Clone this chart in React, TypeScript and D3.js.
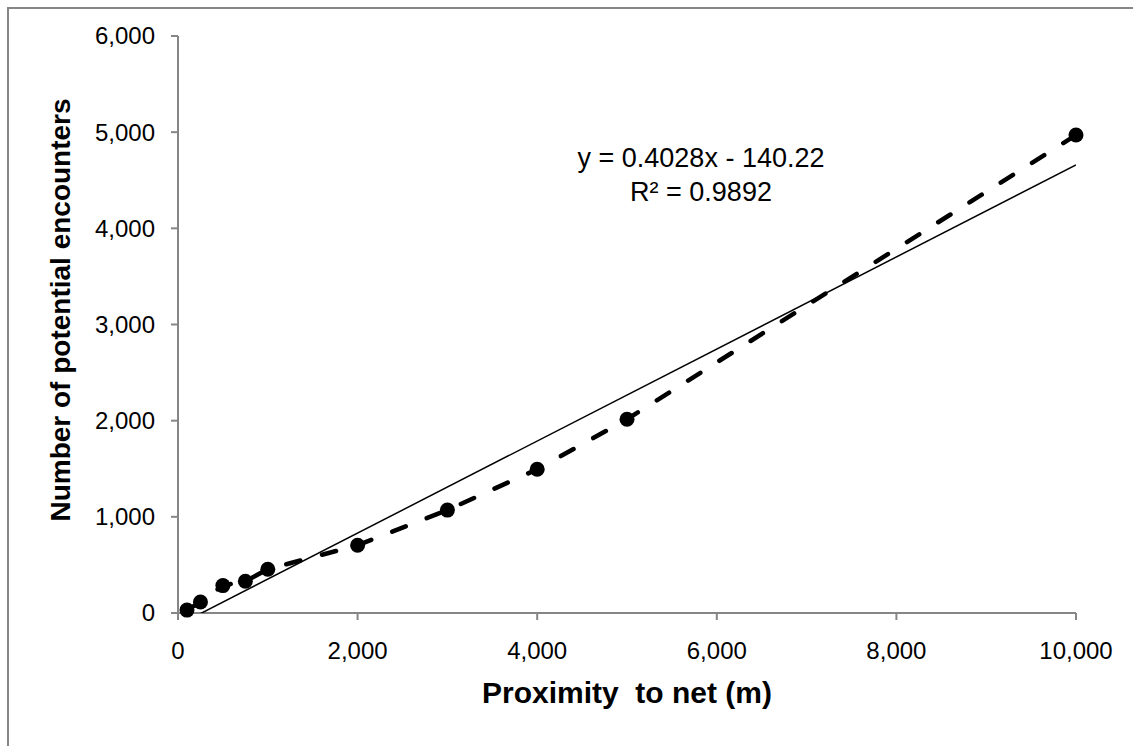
import React from "react";
import * as d3 from "d3";

const xValues = [100, 250, 500, 750, 1000, 2000, 3000, 4000, 5000, 10000];
const yValues = [30, 115, 285, 330, 455, 705, 1070, 1495, 2015, 4970];
const xTicks = [0, 2000, 4000, 6000, 8000, 10000];
const yTicks = [0, 1000, 2000, 3000, 4000, 5000, 6000];
const equationLines = ["y = 0.4028x - 140.22", "R² = 0.9892"];
const xTitle = "Proximity  to net (m)";
const yTitle = "Number of potential encounters";

const W = 1133;
const H = 746;
const plot = { left: 178, right: 1076, top: 36, bottom: 613 };
const font = "'Liberation Sans', Arial, sans-serif";
const axisColor = "#868686";

export default function App() {
  const x = d3.scaleLinear().domain([0, 10000]).range([plot.left, plot.right]);
  const y = d3.scaleLinear().domain([0, 6000]).range([plot.bottom, plot.top]);
  const fmt = d3.format(",");

  const pts = xValues.map((v, i) => [v, yValues[i]] as [number, number]);
  const line = d3
    .line<[number, number]>()
    .x((d) => x(d[0]))
    .y((d) => y(d[1]));

  // least squares trendline
  const mx = d3.mean(xValues)!;
  const my = d3.mean(yValues)!;
  const sxy = d3.sum(pts, (d) => (d[0] - mx) * (d[1] - my));
  const sxx = d3.sum(xValues, (v) => (v - mx) * (v - mx));
  const slope = sxy / sxx;
  const intercept = my - slope * mx;
  const xMin = d3.min(xValues)!;
  const xMax = d3.max(xValues)!;
  const trend: [number, number][] = [
    [xMin, slope * xMin + intercept],
    [xMax, slope * xMax + intercept],
  ];

  return (
    <svg
      width={W}
      height={H}
      style={{ position: "absolute", left: 0, top: 0, background: "#fff" }}
    >
      <defs>
        <clipPath id="plotClip">
          <rect
            x={plot.left}
            y={plot.top}
            width={plot.right - plot.left}
            height={plot.bottom - plot.top}
          />
        </clipPath>
      </defs>
      {/* outer chart border */}
      <rect x={8} y={8} width={W + 20} height={H + 20} fill="none" stroke={axisColor} strokeWidth={2} />

      {/* y axis */}
      <line x1={plot.left} x2={plot.left} y1={y(6000)} y2={y(0)} stroke={axisColor} strokeWidth={2} />
      {yTicks.map((t) => (
        <g key={"y" + t}>
          <line x1={plot.left - 7} x2={plot.left} y1={y(t)} y2={y(t)} stroke={axisColor} strokeWidth={2} />
          <text
            x={plot.left - 23}
            y={y(t)}
            dy="0.35em"
            textAnchor="end"
            fontFamily={font}
            fontSize={24}
            fill="#000"
          >
            {fmt(t)}
          </text>
        </g>
      ))}

      {/* x axis */}
      <line x1={x(0)} x2={x(10000)} y1={plot.bottom} y2={plot.bottom} stroke={axisColor} strokeWidth={2} />
      {xTicks.map((t) => (
        <g key={"x" + t}>
          <line x1={x(t)} x2={x(t)} y1={plot.bottom} y2={plot.bottom + 7} stroke={axisColor} strokeWidth={2} />
          <text
            x={x(t)}
            y={659}
            textAnchor="middle"
            fontFamily={font}
            fontSize={24}
            fill="#000"
          >
            {fmt(t)}
          </text>
        </g>
      ))}

      {/* trendline */}
      <g clipPath="url(#plotClip)">
        <path d={line(trend)!} fill="none" stroke="#000" strokeWidth={1.5} />
      </g>

      {/* data series */}
      <path
        d={line(pts)!}
        fill="none"
        stroke="#000"
        strokeWidth={4.5}
        strokeDasharray="14.5 22.5"
        strokeLinecap="round"
      />
      {pts.map((d, i) => (
        <circle key={i} cx={x(d[0])} cy={y(d[1])} r={7.5} fill="#000" />
      ))}

      {/* equation label */}
      <text x={701} y={167} textAnchor="middle" fontFamily={font} fontSize={27} fill="#000">
        {equationLines[0]}
      </text>
      <text x={701} y={201} textAnchor="middle" fontFamily={font} fontSize={27} fill="#000">
        {equationLines[1]}
      </text>

      {/* axis titles */}
      <text
        x={(plot.left + plot.right) / 2}
        y={703}
        textAnchor="middle"
        fontFamily={font}
        fontSize={30}
        fontWeight="bold"
        fill="#000"
        style={{ whiteSpace: "pre" }}
      >
        {xTitle}
      </text>
      <text
        transform={`translate(70, 310) rotate(-90)`}
        textAnchor="middle"
        fontFamily={font}
        fontSize={28}
        fontWeight="bold"
        fill="#000"
      >
        {yTitle}
      </text>
    </svg>
  );
}
